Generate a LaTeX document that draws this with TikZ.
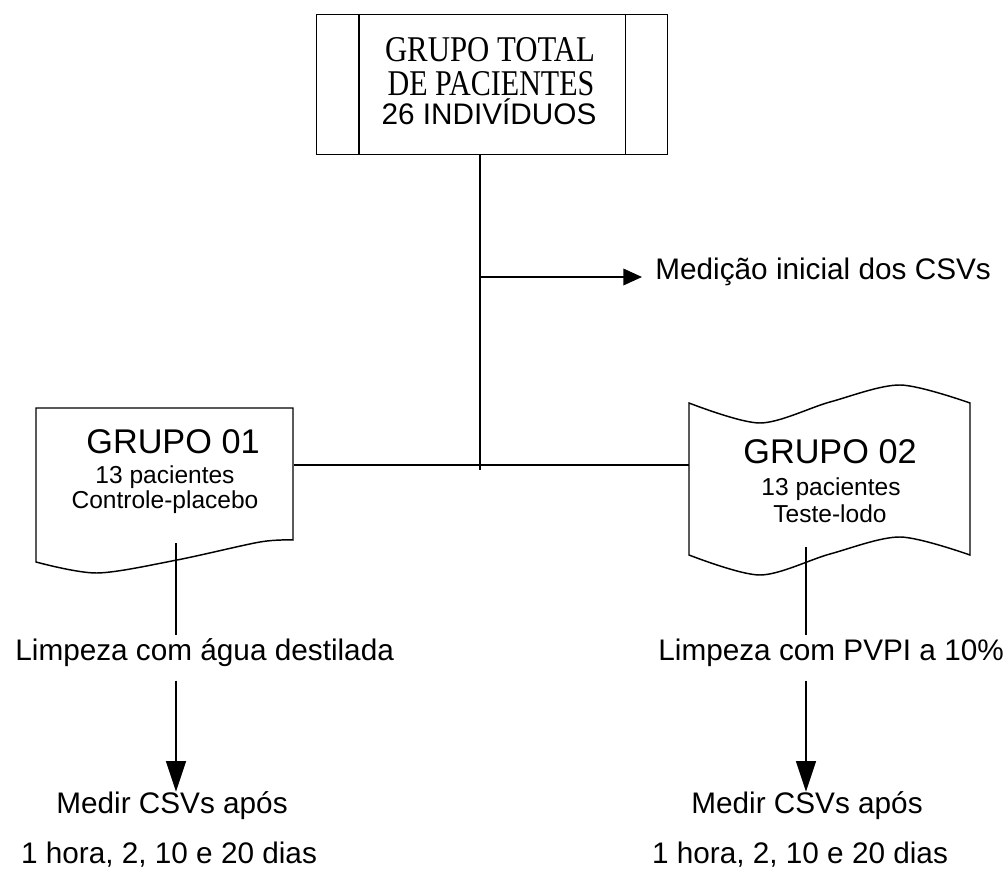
\documentclass[tikz,border=0pt]{standalone}
\usepackage{graphicx}
\usepackage{fontspec}
\setmainfont{Liberation Sans}
\newfontfamily\seriffont{Liberation Serif}
\usetikzlibrary{arrows.meta,calc}
\begin{document}
\begin{tikzpicture}[x=0.75pt,y=-0.75pt, line width=1.1pt,
  txt/.style={inner sep=2pt, anchor=base},
  body/.style={font=\fontsize{22.3}{26}\selectfont},
  head/.style={font=\fontsize{25.7}{30}\selectfont},
  sub/.style={font=\fontsize{18.4}{22}\selectfont},
  ser/.style={font=\seriffont\fontsize{22.8}{26}\selectfont},
  varr/.style={-{Triangle[length=23pt,width=15pt]}},
  harr/.style={-{Triangle[length=14pt,width=12.5pt]}}]
\useasboundingbox (0,0) rectangle (1008,870);

% top box
\node[draw, minimum width=263.25pt, minimum height=105pt, inner sep=0, anchor=north west] (top) at (316,14) {};
\draw ($(top.north west)+(43,0)$) -- ($(top.south west)+(43,0)$);
\draw ($(top.north east)+(-43,0)$) -- ($(top.south east)+(-43,0)$);
\node[txt, ser, inner sep=0] (t1) at (490,62) {\resizebox{157.5pt}{18pt}{GRUPO TOTAL}};
\node[txt, ser, inner sep=0] (t2) at (491,96) {\resizebox{155pt}{18pt}{DE PACIENTES}};
\node[txt, body, inner sep=0] (t3) at (489,125) {26 INDIVÍDUOS};

% group 01 (document shape)
\draw (36,408) -- (293,408) -- (293,540) -- plot[smooth] coordinates {(293,540) (260,542) (177,560) (97,573) (36,562)} -- cycle;
\node[inner sep=0, minimum width=192.75pt, minimum height=115.5pt, anchor=north west] (g1) at (36,408) {};
\node[txt, head] (g1a) at (173,453) {GRUPO 01};
\node[txt, sub] (g1b) at (165,483) {13 pacientes};
\node[txt, sub] (g1c) at (165,508) {Controle-placebo};

% group 02 (tape shape)
\draw plot[smooth] coordinates {(689,403) (760,423) (830,402) (900,385) (970,403)} -- (970,555) -- plot[smooth] coordinates {(970,555) (900,537) (830,554) (760,575) (689,555)} -- cycle;
\node[inner sep=0, minimum width=210.75pt, minimum height=142.5pt, anchor=north west] (g2) at (689,385) {};
\node[txt, head] (g2a) at (830,463) {GRUPO 02};
\node[txt, sub] (g2b) at (831,495) {13 pacientes};
\node[txt, sub] (g2c) at (830,522) {Teste-lodo};

% labels
\node[txt, body, anchor=base west] (med) at (652,280) {Medição inicial dos CSVs};
\node[txt, body, anchor=base west] (limp1) at (12,660) {Limpeza com água destilada};
\node[txt, body, anchor=base west] (limp2) at (655,660) {Limpeza com PVPI a 10\%};
\node[txt, body] (med1) at (172,813) {Medir CSVs após};
\node[txt, body] (hora1) at (169,863) {1 hora, 2, 10 e 20 dias};
\node[txt, body] (med2) at (807,813) {Medir CSVs após};
\node[txt, body] (hora2) at (800,863) {1 hora, 2, 10 e 20 dias};

% connectors
\coordinate (j) at (480,465);
\coordinate (jb) at (480,470);
\coordinate (b) at (480,277);
\coordinate (g1s) at (176,543);
\coordinate (g2s) at (806,547);
\draw (top.south -| j) -- (jb);
\draw (g1.east |- j) -- (g2.west |- j);
\draw[harr] (b) -- ($(b -| med.west)+(-10,0)$);
\draw (g1s) -- (g1s |- limp1.north);
\draw[varr] ($(limp1.south -| g1s)+(0,11)$) -- ($(med1.north -| g1s)+(0,4)$);
\draw (g2s) -- (g2s |- limp2.north);
\draw[varr] ($(limp2.south -| g2s)+(0,11)$) -- ($(med2.north -| g2s)+(0,4)$);
\end{tikzpicture}
\end{document}
